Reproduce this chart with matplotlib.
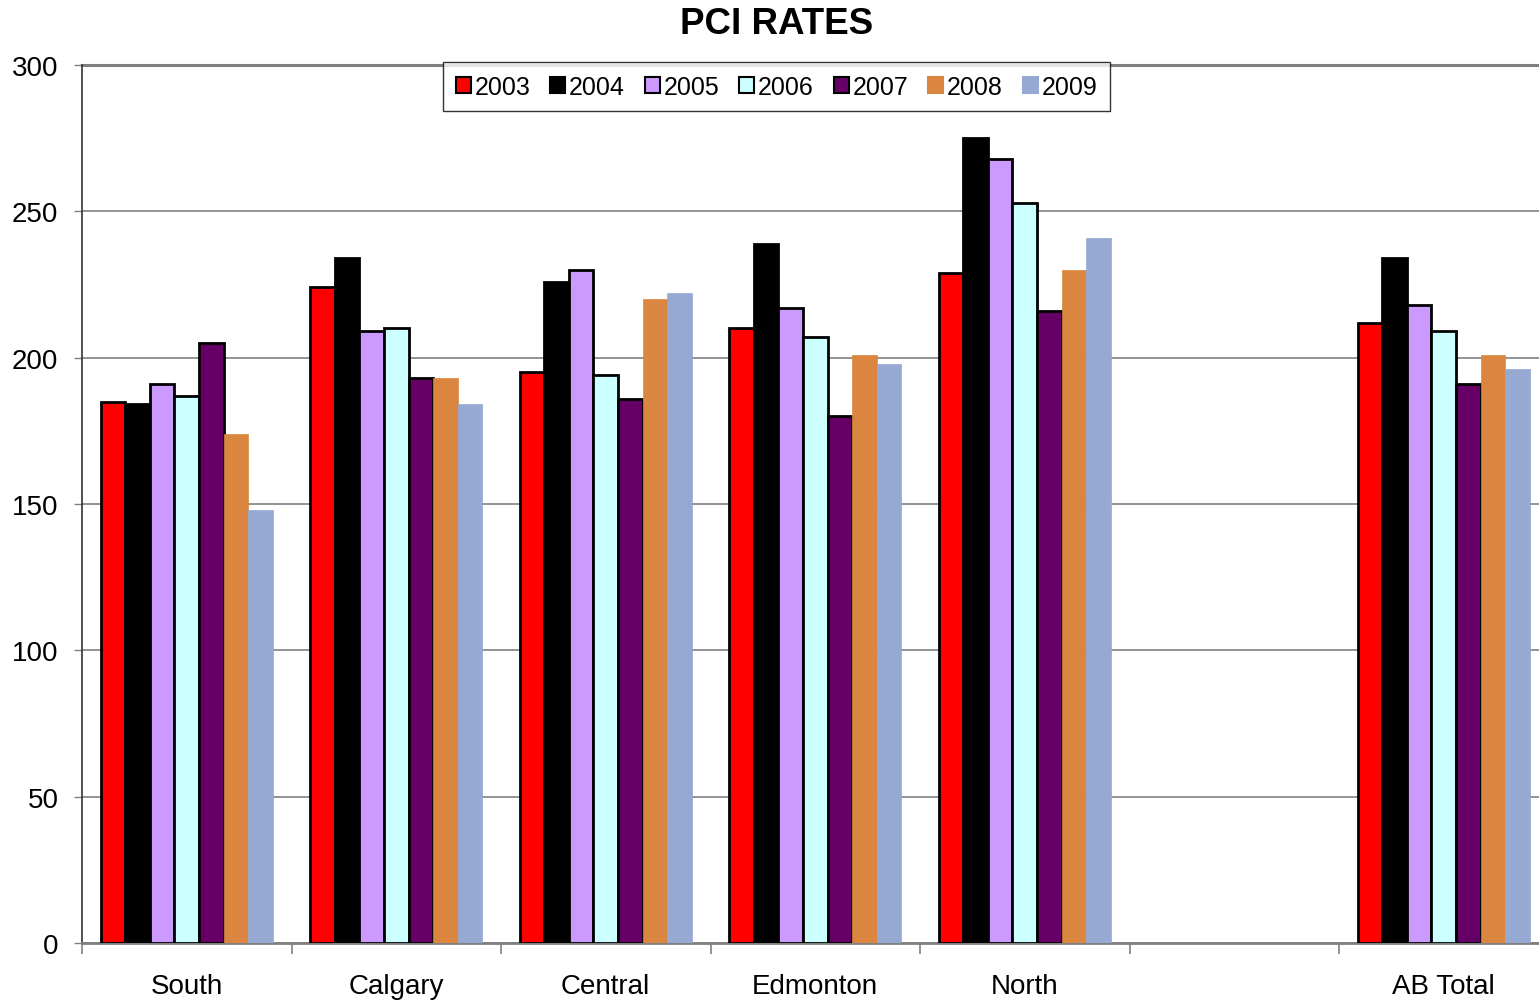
import matplotlib.pyplot as plt
import numpy as np

plt.rcParams['font.family'] = ['Liberation Sans', 'DejaVu Sans']

regions = ["South", "Calgary", "Central", "Edmonton", "North", "", "AB Total"]
years = ["2003", "2004", "2005", "2006", "2007", "2008", "2009"]

v2003 = [185, 224, 195, 210, 229, None, 212]
v2004 = [184, 234, 226, 239, 275, None, 234]
v2005 = [191, 209, 230, 217, 268, None, 218]
v2006 = [187, 210, 194, 207, 253, None, 209]
v2007 = [205, 193, 186, 180, 216, None, 191]
v2008 = [174, 193, 220, 201, 230, None, 201]
v2009 = [148, 184, 222, 198, 241, None, 196]
series = [v2003, v2004, v2005, v2006, v2007, v2008, v2009]

colors = ["#FF0000", "#000000", "#CC99FF", "#CCFFFF", "#660066", "#DA8640", "#95A9D3"]
edged = [True, True, True, True, True, False, False]

fig = plt.figure(figsize=(15.39, 10.03), dpi=100)
ax = fig.add_axes([82/1539, 1-944/1003, (1548.5-82)/1539, (944-66)/1003])

bw = 0.117
x = np.arange(len(regions))
for i, (vals, c, e) in enumerate(zip(series, colors, edged)):
    xs = [xi for xi, v in zip(x, vals) if v is not None]
    ys = [v for v in vals if v is not None]
    off = (i - 3) * bw + 0.5
    ax.bar(np.array(xs) + off, ys, width=bw, color=c,
           edgecolor="black" if e else c, linewidth=2 if e else 0.5,
           label=years[i], zorder=3)

ax.set_xlim(0, 7)
ax.set_ylim(0, 300)
ax.set_yticks(range(0, 301, 50))
ax.yaxis.grid(True, color="#808080", linewidth=1.2, zorder=0)
ax.set_xticks(range(0, 8))
ax.set_xticklabels([])
ax.set_xticks(x + 0.5, minor=True)
ax.set_xticklabels(regions, minor=True)
ax.tick_params(axis="x", which="minor", length=0, labelsize=20, pad=21.5)
ax.tick_params(axis="x", which="major", length=8, width=1.2, color="#808080", direction="out")
ax.tick_params(axis="y", labelsize=20, length=6, width=1, color="#808080", pad=11)

for s in ["top", "right"]:
    ax.spines[s].set_visible(False)
ax.spines["left"].set_color("#333333")
ax.spines["left"].set_linewidth(1.2)
ax.spines["bottom"].set_color("#808080")
ax.spines["bottom"].set_linewidth(2)
ax.axhline(300, color="#808080", linewidth=2.2, zorder=2, clip_on=False)

leg = ax.legend(loc="upper center", bbox_to_anchor=((776.5 - 82) / 1466.5, 1.003),
                ncol=7, fontsize=18, frameon=True, fancybox=False, edgecolor="black",
                handlelength=0.6, handleheight=0.6, handletextpad=0.15, columnspacing=0.8,
                borderpad=0.5, borderaxespad=0)
leg.get_frame().set_linewidth(1)
for h in leg.legend_handles:
    h.set_linewidth(1.5)

fig.text(777/1539, 1-24/1003, "PCI RATES", ha="center", va="center",
         fontsize=26.5, fontweight="bold")

plt.savefig("out.png", dpi=100)
